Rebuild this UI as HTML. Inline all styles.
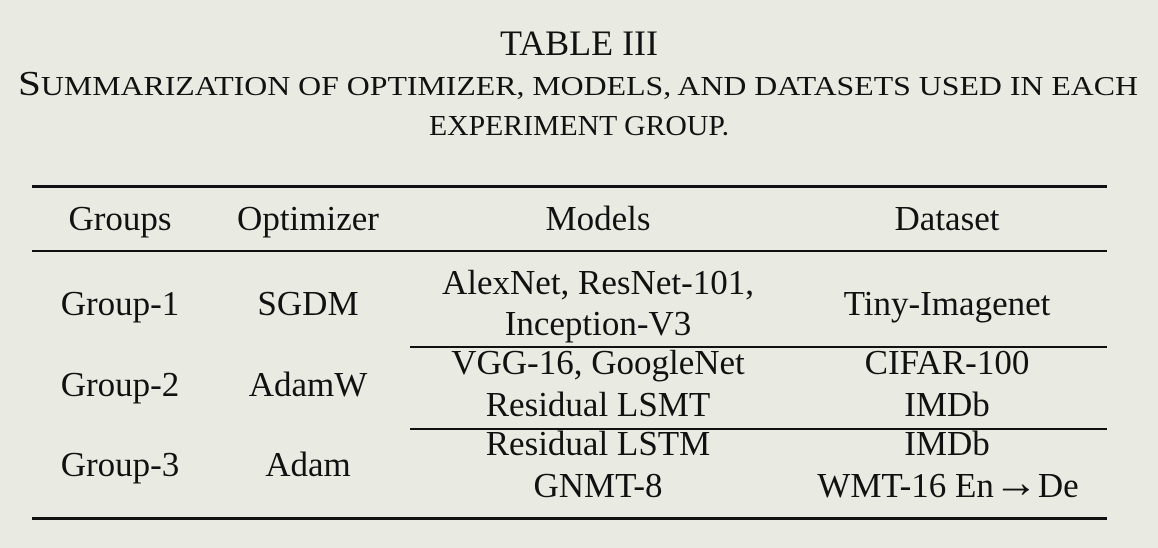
<!DOCTYPE html>
<html><head><meta charset="utf-8"><style>
html,body{margin:0;padding:0;background:#e9ebe3;}
svg{display:block;font-family:"Liberation Serif",serif;}
</style></head><body>
<svg width="1158" height="548" viewBox="0 0 1158 548" xmlns="http://www.w3.org/2000/svg">
<rect width="1158" height="548" fill="#e9ebe3"/>
<g fill="#111" text-anchor="middle">
<text x="579" y="55" font-size="36">TABLE III</text>
<text x="578" y="95" font-size="27" textLength="1120" lengthAdjust="spacingAndGlyphs"><tspan font-size="35">S</tspan>UMMARIZATION OF OPTIMIZER, MODELS, AND DATASETS USED IN EACH</text>
<text x="579" y="135" font-size="28" textLength="300" lengthAdjust="spacingAndGlyphs">EXPERIMENT GROUP.</text>

<g font-size="35">
<text x="120" y="230">Groups</text>
<text x="308" y="230">Optimizer</text>
<text x="598" y="230">Models</text>
<text x="947" y="230">Dataset</text>

<text x="120" y="315">Group-1</text>
<text x="308" y="315">SGDM</text>
<text x="598" y="294">AlexNet, ResNet-101,</text>
<text x="598" y="335">Inception-V3</text>
<text x="947" y="315">Tiny-Imagenet</text>

<text x="120" y="396">Group-2</text>
<text x="308" y="396">AdamW</text>
<text x="598" y="374">VGG-16, GoogleNet</text>
<text x="598" y="416">Residual LSMT</text>
<text x="947" y="374">CIFAR-100</text>
<text x="947" y="416">IMDb</text>

<text x="120" y="476">Group-3</text>
<text x="308" y="476">Adam</text>
<text x="598" y="455">Residual LSTM</text>
<text x="598" y="497">GNMT-8</text>
<text x="947" y="455">IMDb</text>
<text x="948" y="497">WMT-16 En<tspan font-size="44">→</tspan>De</text>
</g>
</g>
<g fill="#111">
<rect x="32" y="185" width="1075" height="3"/>
<rect x="32" y="250" width="1075" height="2"/>
<rect x="410" y="346" width="697" height="2"/>
<rect x="410" y="428" width="697" height="2"/>
<rect x="32" y="517" width="1075" height="3"/>
</g>
</svg>
</body></html>
